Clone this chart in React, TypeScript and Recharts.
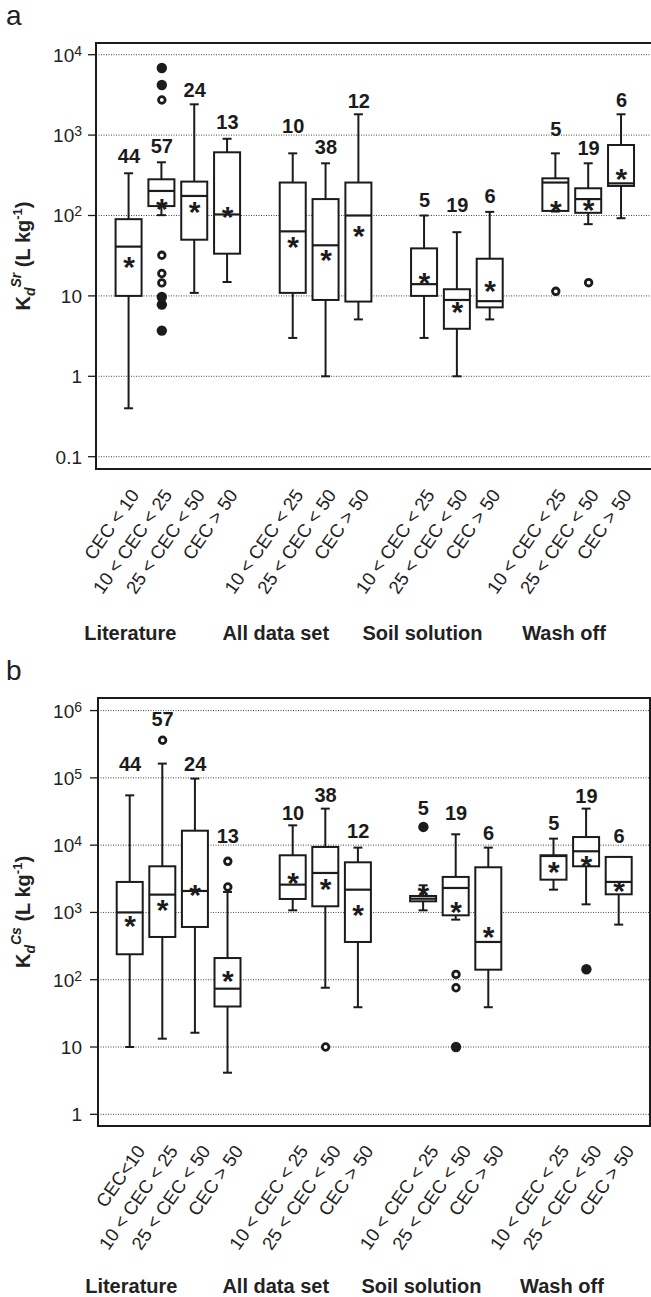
import React from "react";
import {
  ComposedChart,
  Bar,
  Scatter,
  XAxis,
  YAxis,
  CartesianGrid,
  ReferenceArea,
} from "recharts";

const FONT = "'Liberation Sans', Arial, Helvetica, sans-serif";
const INK = "#1b1b1b";
const BOX_W = 26;

// ---------- categories ----------
const SLOTS = [0, 1, 2, 3, 5, 6, 7, 9, 10, 11, 13, 14, 15];
const CEC_LABELS_A = [
  "CEC < 10", "10 < CEC < 25", "25 < CEC < 50", "CEC > 50",
  "10 < CEC < 25", "25 < CEC < 50", "CEC > 50",
  "10 < CEC < 25", "25 < CEC < 50", "CEC > 50",
  "10 < CEC < 25", "25 < CEC < 50", "CEC > 50",
];
const CEC_LABELS_B = [
  "CEC<10", "10 < CEC < 25", "25 < CEC < 50", "CEC > 50",
  "10 < CEC < 25", "25 < CEC < 50", "CEC > 50",
  "10 < CEC < 25", "25 < CEC < 50", "CEC > 50",
  "10 < CEC < 25", "25 < CEC < 50", "CEC > 50",
];
const GROUP_NAMES = ["Literature", "All data set", "Soil solution", "Wash off"];
const GROUP_AT = [0.04, 4.47, 8.94, 13.25];
const COUNTS = [44, 57, 24, 13, 10, 38, 12, 5, 19, 6, 5, 19, 6];

// ---------- panel a : Kd Sr ----------
const SR_MIN = [0.4, 101, 10.9, 14.9, 3.0, 1.0, 5.1, 3.0, 1.0, 5.1, 112, 78, 92.5];
const SR_Q1 = [10, 131, 50, 33.5, 10.9, 8.9, 8.5, 10, 3.9, 7.2, 114, 108, 233];
const SR_MEDIAN = [41, 202, 175, 103, 63.5, 42.6, 100, 14, 8.9, 8.6, 257, 160, 251];
const SR_Q3 = [90, 282, 264, 611, 257, 160, 257, 39, 12.1, 29, 290, 218, 753];
const SR_MAX = [335, 459, 2415, 900, 593, 446, 1815, 100, 62, 111, 593, 446, 1815];
const SR_MEAN = [28, 149, 135, 117, 49.5, 34, 68.7, 17.7, 7.7, 14, 139, 142, 344];
const SR_COUNT_AT = [450, 600, 2980, 1190, 1060, 582, 2170, 128, 110, 143, 975, 565, 2240];
const SR_OUTLIERS_FILLED: [number, number][] = [[1, 6840], [1, 4200], [1, 9.7], [1, 7.8], [1, 3.7]];
const SR_OUTLIERS_OPEN: [number, number][] = [[1, 2735], [1, 32], [1, 19], [1, 14.5], [10, 11.4], [11, 14.6]];
const Y_TICKS_A = [0.1, 1, 10, 100, 1000, 10000];
const Y_TICK_TEXT_A = [["0.1", ""], ["1", ""], ["10", ""], ["10", "2"], ["10", "3"], ["10", "4"]];
const Y_DOMAIN_A: [number, number] = [0.0703, 13980];

// ---------- panel b : Kd Cs ----------
const CS_MIN = [10, 13.3, 16.3, 4.15, 1075, 76, 39, 1075, 782, 39, 2180, 1320, 659];
const CS_Q1 = [239, 432, 608, 40, 1585, 1234, 364, 1463, 906, 141, 3070, 4850, 1860];
const CS_MEDIAN = [1000, 1840, 2085, 73.6, 2590, 3860, 2180, 1600, 2310, 364, 6900, 8110, 2840];
const CS_Q3 = [2840, 4850, 16400, 210, 7070, 9400, 5560, 1756, 3370, 4690, 7070, 13200, 6680];
const CS_MAX = [55000, 163000, 97500, 2015, 19700, 34900, 9190, 2530, 14500, 9190, 12500, 34900, 6680];
const CS_MEAN = [809, 1400, 2340, 123, 3440, 2840, 1180, 2340, 1276, 542, 5020, 6310, 2680];
const CS_COUNT_AT = [127000, 590000, 127000, 10900, 23400, 43900, 12900, 28400, 23400, 12100, 16600, 42900, 10900];
const CS_OUTLIERS_FILLED: [number, number][] = [[7, 18650], [8, 10], [11, 143]];
const CS_OUTLIERS_OPEN: [number, number][] = [[1, 362000], [3, 5750], [3, 2390], [5, 10], [8, 120], [8, 76]];
const Y_TICKS_B = [1, 10, 100, 1000, 10000, 100000, 1000000];
const Y_TICK_TEXT_B = [["1", ""], ["10", ""], ["10", "2"], ["10", "3"], ["10", "4"], ["10", "5"], ["10", "6"]];
const Y_DOMAIN_B: [number, number] = [0.67, 1538000];

type Row = {
  x: number;
  whisker: [number, number];
  box: [number, number];
  median: number;
  mean: number;
  countAt: number;
  count: number;
};

function buildRows(mn: number[], q1: number[], md: number[], q3: number[], mx: number[], mean: number[], at: number[]): Row[] {
  return SLOTS.map((x, i) => ({
    x,
    whisker: [mn[i], mx[i]],
    box: [q1[i], q3[i]],
    median: md[i],
    mean: mean[i],
    countAt: at[i],
    count: COUNTS[i],
  }));
}

function buildPts(list: [number, number][]) {
  return list.map(([i, v]) => ({ x: SLOTS[i], y: v }));
}

// ---------- shapes ----------
const WhiskerShape = (p: any) => {
  const { x, y, width, height } = p;
  if (x == null || y == null) return <g />;
  const cx = x + width / 2;
  const top = Math.min(y, y + height);
  const bot = Math.max(y, y + height);
  return (
    <g stroke={INK} strokeWidth={2}>
      <line x1={cx} x2={cx} y1={top} y2={bot} />
      <line x1={cx - 4.5} x2={cx + 4.5} y1={top} y2={top} />
      <line x1={cx - 4.5} x2={cx + 4.5} y1={bot} y2={bot} />
    </g>
  );
};

const BoxShape = (p: any) => {
  const { x, y, width, height } = p;
  if (x == null || y == null) return <g />;
  const top = Math.min(y, y + height);
  const h = Math.abs(height);
  return <rect x={x} y={top} width={width} height={h} fill="#ffffff" stroke={INK} strokeWidth={2} />;
};

const MedianShape = (p: any) => (
  <line x1={p.cx - BOX_W / 2} x2={p.cx + BOX_W / 2} y1={p.cy} y2={p.cy} stroke={INK} strokeWidth={2.2} />
);

const MeanShape = (p: any) => (
  <text x={p.cx} y={p.cy + 17} textAnchor="middle" fontFamily={FONT} fontSize={30} fontWeight="bold" fill={INK}>
    *
  </text>
);

const CountShape = (p: any) => (
  <text x={p.cx} y={p.cy} textAnchor="middle" fontFamily={FONT} fontSize={20} fontWeight="bold" fill={INK}>
    {p.payload.count}
  </text>
);

const FilledDot = (p: any) => <circle cx={p.cx} cy={p.cy} r={5.2} fill={INK} />;
const OpenDot = (p: any) => <circle cx={p.cx} cy={p.cy} r={3.3} fill="#ffffff" stroke={INK} strokeWidth={2.8} />;

function makeYTick(ticks: number[], text: string[][]) {
  return (p: any) => {
    const i = ticks.indexOf(p.payload.value);
    if (i < 0) return <g />;
    const [base, exp] = text[i];
    return (
      <text x={p.x} y={p.y + 7} textAnchor="end" fontFamily={FONT} fontSize={19} fill="#222">
        {base}
        {exp ? (
          <tspan dy={-6} fontSize={14}>
            {exp}
          </tspan>
        ) : null}
      </text>
    );
  };
}

function makeXTick(labels: string[], dx: number, dy: number) {
  return (p: any) => {
    const i = SLOTS.indexOf(p.payload.value);
    if (i < 0) return <g />;
    const ax = p.x + dx;
    const ay = p.y + dy;
    return (
      <text
        x={ax}
        y={ay}
        transform={`rotate(-55 ${ax} ${ay})`}
        textAnchor="end"
        fontFamily={FONT}
        fontSize={18.5}
        fill="#222"
      >
        {labels[i]}
      </text>
    );
  };
}

function makeGroupTick(dy: number) {
  return (p: any) => {
    const i = GROUP_AT.indexOf(p.payload.value);
    if (i < 0) return <g />;
    return (
      <text x={p.x} y={p.y + dy} textAnchor="middle" fontFamily={FONT} fontSize={20} fontWeight="bold" fill="#222">
        {GROUP_NAMES[i]}
      </text>
    );
  };
}

const YTitle = (p: any) => {
  const vb = p.viewBox || {};
  const cy = (vb.y ?? 0) + (vb.height ?? 0) / 2;
  const bx = 30;
  return (
    <text
      x={bx}
      y={cy}
      transform={`rotate(-90 ${bx} ${cy})`}
      textAnchor="middle"
      fontFamily={FONT}
      fontSize={20}
      fontWeight="bold"
      fill="#222"
    >
      K
      <tspan dy={5} fontSize={14} fontStyle="italic">
        d
      </tspan>
      <tspan dy={-14} fontSize={14} fontStyle="italic">
        {p.element}
      </tspan>
      <tspan dy={9} fontSize={20}>
        {" (L kg"}
      </tspan>
      <tspan dy={-8} fontSize={13}>
        -1
      </tspan>
      <tspan dy={8} fontSize={20}>
        )
      </tspan>
    </text>
  );
};

type PanelProps = {
  width: number;
  height: number;
  marginTop: number;
  marginRight: number;
  yAxisWidth: number;
  yTickMargin: number;
  xDomain: [number, number];
  yDomain: [number, number];
  yTicks: number[];
  yTickText: string[][];
  xLabels: string[];
  xLabelDx: number;
  xLabelDy: number;
  xAxisHeight: number;
  groupAxisHeight: number;
  groupDy: number;
  rows: Row[];
  filled: { x: number; y: number }[];
  open: { x: number; y: number }[];
  element: string;
};

function Panel(props: PanelProps) {
  const {
    width, height, marginTop, marginRight, yAxisWidth, yTickMargin, xDomain, yDomain, yTicks, yTickText,
    xLabels, xLabelDx, xLabelDy, xAxisHeight, groupAxisHeight, groupDy, rows, filled, open, element,
  } = props;
  return (
    <ComposedChart
      width={width}
      height={height}
      data={rows}
      margin={{ top: marginTop, right: marginRight, left: 0, bottom: 0 }}
      barGap={-BOX_W}
      style={{ fontFamily: FONT }}
    >
      <CartesianGrid horizontal vertical={false} stroke="#444" strokeWidth={1} strokeDasharray="1 1.5" />
      <XAxis
        dataKey="x"
        type="number"
        domain={xDomain}
        allowDataOverflow
        ticks={SLOTS}
        interval={0}
        axisLine={false}
        tickLine={false}
        tickSize={0}
        tickMargin={0}
        height={xAxisHeight}
        tick={makeXTick(xLabels, xLabelDx, xLabelDy)}
      />
      <XAxis
        xAxisId="grp"
        dataKey="x"
        type="number"
        domain={xDomain}
        allowDataOverflow
        ticks={GROUP_AT}
        interval={0}
        axisLine={false}
        tickLine={false}
        tickSize={0}
        tickMargin={0}
        height={groupAxisHeight}
        tick={makeGroupTick(groupDy)}
      />
      <YAxis
        type="number"
        scale="log"
        domain={yDomain}
        allowDataOverflow
        ticks={yTicks}
        interval={0}
        width={yAxisWidth}
        axisLine={false}
        tickLine={{ stroke: INK, strokeWidth: 1.3 }}
        tickSize={8}
        tickMargin={yTickMargin}
        tick={makeYTick(yTicks, yTickText)}
        label={<YTitle element={element} />}
      />
      <ReferenceArea
        x1={xDomain[0]}
        x2={xDomain[1]}
        y1={yDomain[0]}
        y2={yDomain[1]}
        fill="none"
        fillOpacity={0}
        stroke={INK}
        strokeWidth={2}
        ifOverflow="visible"
      />
      <Bar dataKey="whisker" barSize={BOX_W} shape={WhiskerShape} isAnimationActive={false} />
      <Bar dataKey="box" barSize={BOX_W} shape={BoxShape} isAnimationActive={false} />
      <Scatter dataKey="median" shape={MedianShape} isAnimationActive={false} />
      <Scatter dataKey="mean" shape={MeanShape} isAnimationActive={false} />
      <Scatter dataKey="countAt" shape={CountShape} isAnimationActive={false} />
      <Scatter data={filled} dataKey="y" shape={FilledDot} isAnimationActive={false} />
      <Scatter data={open} dataKey="y" shape={OpenDot} isAnimationActive={false} />
    </ComposedChart>
  );
}

const ROWS_A = buildRows(SR_MIN, SR_Q1, SR_MEDIAN, SR_Q3, SR_MAX, SR_MEAN, SR_COUNT_AT);
const ROWS_B = buildRows(CS_MIN, CS_Q1, CS_MEDIAN, CS_Q3, CS_MAX, CS_MEAN, CS_COUNT_AT);

const panelLetter: React.CSSProperties = {
  position: "absolute",
  left: 6,
  fontFamily: FONT,
  fontSize: 28,
  lineHeight: "28px",
  color: "#222",
};

export default function App() {
  return (
    <div
      style={{
        position: "absolute",
        left: 0,
        top: 0,
        width: 651,
        height: 1297,
        overflow: "hidden",
        background: "#ffffff",
      }}
    >
      <div style={{ position: "absolute", left: 0, top: 0 }}>
        <Panel
          width={660}
          height={645}
          marginTop={43}
          marginRight={7}
          yAxisWidth={96}
          yTickMargin={6}
          xDomain={[-1.005, 15.961]}
          yDomain={Y_DOMAIN_A}
          yTicks={Y_TICKS_A}
          yTickText={Y_TICK_TEXT_A}
          xLabels={CEC_LABELS_A}
          xLabelDx={11}
          xLabelDy={26}
          xAxisHeight={130}
          groupAxisHeight={46}
          groupDy={41}
          rows={ROWS_A}
          filled={buildPts(SR_OUTLIERS_FILLED)}
          open={buildPts(SR_OUTLIERS_OPEN)}
          element="Sr"
        />
      </div>
      <div style={{ position: "absolute", left: 0, top: 645 }}>
        <Panel
          width={651}
          height={652}
          marginTop={53}
          marginRight={1}
          yAxisWidth={98}
          yTickMargin={8}
          xDomain={[-0.982, 15.951]}
          yDomain={Y_DOMAIN_B}
          yTicks={Y_TICKS_B}
          yTickText={Y_TICK_TEXT_B}
          xLabels={CEC_LABELS_B}
          xLabelDx={16}
          xLabelDy={25}
          xAxisHeight={125}
          groupAxisHeight={46}
          groupDy={42}
          rows={ROWS_B}
          filled={buildPts(CS_OUTLIERS_FILLED)}
          open={buildPts(CS_OUTLIERS_OPEN)}
          element="Cs"
        />
      </div>
      <div style={{ ...panelLetter, top: 2 }}>a</div>
      <div style={{ ...panelLetter, top: 657 }}>b</div>
    </div>
  );
}
